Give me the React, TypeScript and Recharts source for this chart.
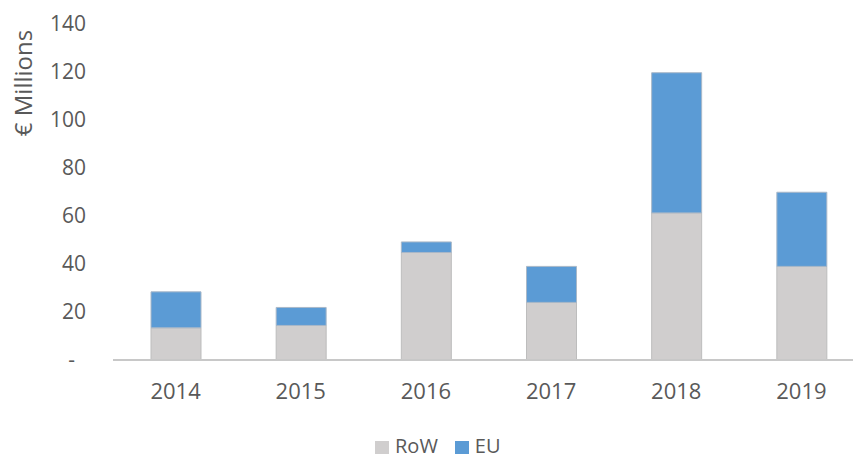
import React from 'react';
import { BarChart, Bar, XAxis, YAxis, Legend } from 'recharts';

const years = ['2014', '2015', '2016', '2017', '2018', '2019'];
const rowValues = [13.4, 14.4, 44.8, 24.0, 61.3, 39.0];
const euValues = [15.0, 7.5, 4.4, 15.0, 58.4, 30.9];
const yTicks = [0, 20, 40, 60, 80, 100, 120, 140];
const seriesOrder = ['RoW', 'EU'];

const data = years.map((year, i) => ({ year, RoW: rowValues[i], EU: euValues[i] }));

const FONT = '"Open Sans", "Noto Sans", sans-serif';
const TEXT = '#595959';

const LegendContent = ({ payload }: any) => {
  const items = [...(payload || [])].sort(
    (a: any, b: any) => seriesOrder.indexOf(a.value) - seriesOrder.indexOf(b.value)
  );
  return (
    <div style={{ display: 'flex', alignItems: 'center', paddingLeft: 375, fontFamily: FONT, fontSize: 20, color: TEXT, height: 20 }}>
      {items.map((p: any) => (
        <div key={p.value} style={{ display: 'flex', alignItems: 'center', marginRight: 17, whiteSpace: 'nowrap' }}>
          <span style={{ width: 14, height: 13, background: p.color, display: 'inline-block', marginRight: 6, marginTop: 2 }} />
          <span style={{ display: 'inline-block', height: 20, lineHeight: '20px' }}>{p.value}</span>
        </div>
      ))}
    </div>
  );
};

const YLabel = () => (
  <text
    x={22}
    y={83}
    transform="rotate(-90, 22, 83)"
    textAnchor="middle"
    dominantBaseline="central"
    fill={TEXT}
    fontSize={24}
    fontFamily={FONT}
  >
    € Millions
  </text>
);

const App = () => {
  return (
    <div style={{ position: 'absolute', left: 0, top: 0, width: 853, height: 460, overflow: 'hidden', background: '#fff' }}>
      <BarChart width={870} height={460} data={data} margin={{ top: 24, right: 6, bottom: 40, left: 0 }}>
        <XAxis
          dataKey="year"
          height={40}
          tickLine={false}
          tickSize={0}
          tickMargin={23}
          axisLine={{ stroke: '#C8C8C8', strokeWidth: 2 }}
          tick={{ fill: TEXT, fontSize: 22, fontFamily: FONT }}
        />
        <YAxis
          width={113}
          domain={[0, 140]}
          ticks={yTicks}
          interval={0}
          axisLine={false}
          tickLine={false}
          tickSize={0}
          tickMargin={27}
          tickFormatter={(v: number) => (v === 0 ? '-\u00a0\u00a0' : String(v))}
          tick={{ fill: TEXT, fontSize: 21, fontFamily: FONT }}
          label={<YLabel />}
        />
        <Legend
          verticalAlign="bottom"
          content={<LegendContent />}
          wrapperStyle={{ position: 'absolute', top: 436, left: 0, width: 600, height: 20 }}
        />
        <Bar dataKey="RoW" stackId="a" fill="#D0CECE" stroke="#BDBDBD" strokeWidth={1} barSize={50} isAnimationActive={false} />
        <Bar dataKey="EU" stackId="a" fill="#5B9BD5" stroke="#A9B8C8" strokeWidth={1} barSize={50} isAnimationActive={false} />
      </BarChart>
    </div>
  );
};

export default App;
